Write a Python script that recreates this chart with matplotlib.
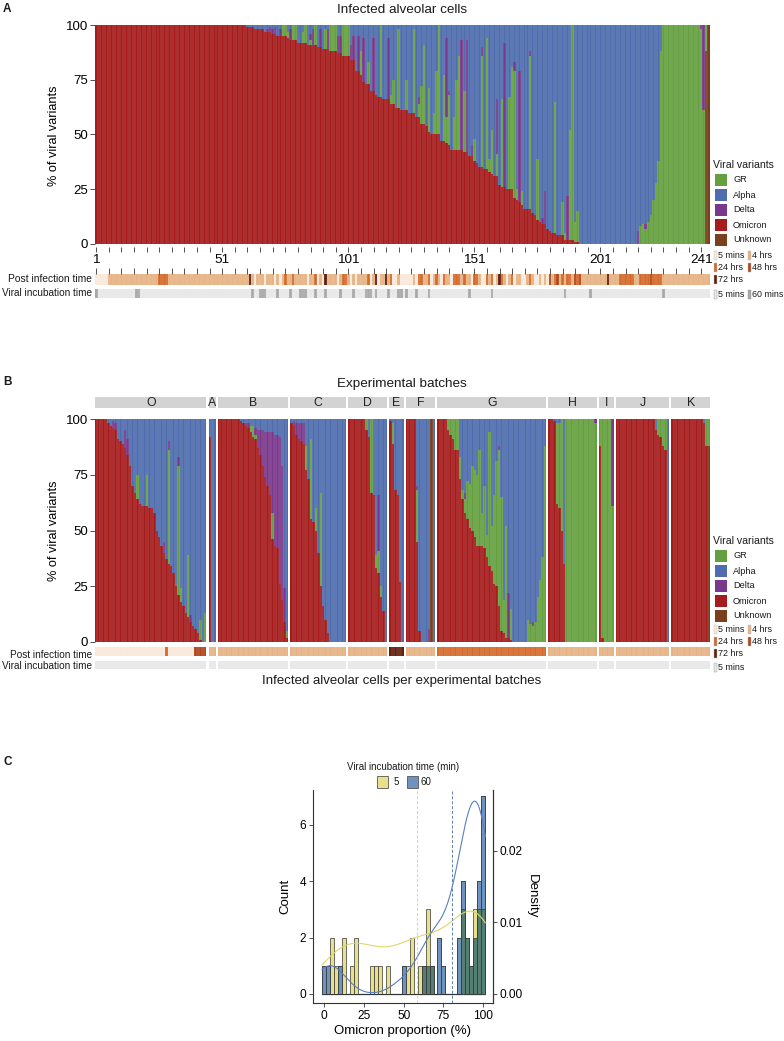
import numpy as np
import matplotlib
matplotlib.use("Agg")
import matplotlib.pyplot as plt
from matplotlib.patches import Rectangle

plt.rcParams['font.family'] = ['Liberation Sans', 'DejaVu Sans']
plt.rcParams['axes.linewidth'] = 0.6

# ------------------------------------------------------------------ data
variant_names = ['GR', 'Alpha', 'Delta', 'Omicron', 'Unknown']
variant_colors = ['#64a040', '#4f6dae', '#7a388c', '#a61c1c', '#7a3f1c']
stack_order = ['Unknown', 'Omicron', 'GR', 'Delta', 'Alpha']   # bottom -> top

batch_names = ['O', 'A', 'B', 'C', 'D', 'E', 'F', 'G', 'H', 'I', 'J', 'K']
batch_sizes = [46, 3, 29, 23, 16, 6, 12, 45, 20, 6, 22, 16]

# % per cell, cells in panel-B order (batch by batch)
omicron = (
    [100, 100, 100, 100, 100, 98, 97, 96, 95, 91, 90, 89, 87, 84, 79, 70, 67, 64, 62, 61, 61, 61, 60, 60, 58,
     50, 47, 43, 40, 37, 35, 34, 31, 25, 21, 18, 16, 13, 11, 9, 7, 6, 4, 1, 0, 0]                         # O
    + [92, 0, 0]                                                                                              # A
    + [100, 100, 100, 100, 100, 100, 100, 100, 100, 99, 98, 97, 96, 94, 92, 91, 87, 84, 79, 74, 70, 66, 46,
       43, 42, 26, 19, 9, 2]                                                                                  # B
    + [98, 97, 93, 91, 90, 89, 77, 73, 55, 54, 50, 40, 25, 16, 10, 4, 0, 0, 0, 0, 0, 0, 0]                   # C
    + [100, 100, 100, 100, 100, 100, 100, 95, 92, 67, 66, 33, 31, 20, 14, 0]                                 # D
    + [99, 89, 68, 66, 27, 0]                                                                                 # E
    + [100, 100, 100, 100, 45, 5, 0, 0, 0, 0, 0, 0]                                                           # F
    + [100, 100, 100, 100, 95, 93, 91, 86, 86, 73, 64, 58, 55, 51, 50, 47, 43, 43, 43, 42, 38, 34, 32, 26,
       25, 16, 5, 4, 2, 2, 1, 0, 0, 0, 0, 0, 0, 0, 0, 0, 0, 0, 0, 0, 0]                                      # G
    + [100, 100, 99, 62, 60, 50, 35, 0, 0, 0, 0, 0, 0, 0, 0, 0, 0, 0, 0, 0]                                  # H
    + [88, 2, 0, 0, 0, 0]                                                                                     # I
    + [100, 100, 100, 100, 100, 100, 100, 100, 100, 100, 100, 100, 100, 100, 100, 100, 95, 93, 92, 88, 86, 0]  # J
    + [100, 100, 100, 100, 100, 100, 100, 100, 100, 100, 100, 100, 100, 98, 88, 0]                          # K
)
gr = (
    [0, 0, 0, 0, 0, 0, 0, 0, 0, 0, 0, 0, 0, 0, 0, 0, 0, 11, 0, 0, 0, 14, 0, 0, 0,
     0, 0, 0, 0, 0, 51, 0, 0, 0, 58, 6, 0, 0, 28, 0, 0, 0, 0, 9, 0, 13]
    + [0, 0, 0]
    + [0, 0, 0, 0, 0, 0, 0, 0, 0, 0, 0, 0, 0, 3, 5, 2, 0, 0, 0, 0, 0, 0, 12, 0, 0, 0, 0, 0, 3]
    + [0, 0, 0, 0, 0, 0, 11, 0, 36, 0, 10, 0, 42, 0, 0, 0, 0, 0, 0, 0, 0, 0, 0]
    + [0, 0, 0, 0, 0, 0, 0, 5, 0, 33, 0, 6, 10, 5, 0, 0]
    + [0, 9, 0, 0, 0, 0]
    + [0, 0, 0, 0, 23, 0, 0, 0, 0, 0, 0, 0]
    + [0, 0, 0, 0, 5, 7, 9, 14, 14, 10, 4, 6, 17, 20, 29, 30, 32, 43, 15, 28, 10, 60, 20, 40,
       56, 70, 60, 15, 50, 0, 14, 0, 0, 0, 0, 0, 0, 10, 8, 7, 9, 20, 28, 38, 88]
    + [0, 0, 0, 36, 38, 50, 0, 100, 100, 100, 100, 100, 100, 100, 100, 100, 100, 100, 100, 98]
    + [12, 98, 100, 100, 100, 61]
    + [0, 0, 0, 0, 0, 0, 0, 0, 0, 0, 0, 0, 0, 0, 0, 0, 0, 7, 8, 12, 14, 0]
    + [0, 0, 0, 0, 0, 0, 0, 0, 0, 0, 0, 0, 0, 0, 12, 12]
)
delta = (
    [0, 0, 0, 0, 0, 0, 0, 3, 3, 0, 0, 0, 8, 7, 0, 0, 0, 0, 0, 0, 0, 0, 0, 0, 0,
     0, 0, 0, 5, 0, 4, 0, 0, 0, 4, 0, 0, 0, 0, 3, 0, 0, 0, 0, 0, 0]
    + [0, 0, 0]
    + [0, 0, 0, 0, 0, 0, 0, 0, 0, 0, 0, 1, 2, 0, 0, 3, 8, 11, 16, 20, 24, 28, 36, 50, 51, 66, 60, 15, 0]
    + [0, 2, 5, 7, 8, 9, 0, 0, 0, 0, 0, 0, 0, 0, 0, 0, 0, 0, 0, 0, 0, 0, 0]
    + [0, 0, 0, 0, 0, 0, 0, 0, 0, 0, 0, 0, 25, 0, 0, 0]
    + [0, 0, 0, 0, 0, 0]
    + [0, 0, 0, 0, 2, 0, 0, 0, 0, 6, 0, 0]
    + [0, 0, 0, 0, 0, 0, 0, 0, 0, 0, 0, 3, 0, 0, 0, 0, 0, 0, 0, 0, 0, 0, 0, 0,
       0, 2, 0, 0, 0, 20, 0, 0, 0, 0, 0, 0, 0, 0, 0, 2, 0, 0, 0, 0, 0]
    + [0, 0, 0, 0, 0, 0, 0, 0, 0, 0, 0, 0, 0, 0, 0, 0, 0, 0, 0, 2]
    + [0, 0, 0, 0, 0, 39]
    + [0, 0, 0, 0, 0, 0, 0, 0, 0, 0, 0, 0, 0, 0, 0, 0, 0, 0, 0, 0, 0, 0]
    + [0, 0, 0, 0, 0, 0, 0, 0, 0, 0, 0, 0, 0, 0, 0, 0]
)
alpha = (
    [0, 0, 0, 0, 0, 2, 3, 1, 2, 9, 10, 11, 5, 9, 21, 30, 33, 25, 38, 39, 39, 25, 40, 40, 42,
     50, 53, 57, 55, 63, 10, 66, 69, 75, 17, 76, 84, 87, 61, 88, 93, 94, 96, 90, 100, 87]
    + [8, 100, 100]
    + [0, 0, 0, 0, 0, 0, 0, 0, 0, 1, 2, 2, 2, 3, 3, 4, 5, 5, 5, 6, 6, 6, 6, 7, 7, 8, 21, 76, 95]
    + [2, 1, 2, 2, 2, 2, 12, 27, 9, 46, 40, 60, 33, 84, 90, 96, 100, 100, 100, 100, 100, 100, 100]
    + [0, 0, 0, 0, 0, 0, 0, 0, 8, 0, 34, 61, 34, 75, 86, 100]
    + [1, 2, 32, 34, 73, 100]
    + [0, 0, 0, 0, 30, 95, 100, 100, 100, 94, 0, 100]
    + [0, 0, 0, 0, 0, 0, 0, 0, 0, 17, 32, 33, 28, 29, 21, 23, 25, 14, 42, 30, 52, 6, 48, 34,
       19, 12, 35, 81, 48, 78, 85, 100, 100, 100, 100, 100, 100, 90, 92, 91, 91, 80, 72, 62, 12]
    + [0, 0, 1, 2, 2, 0, 65, 0, 0, 0, 0, 0, 0, 0, 0, 0, 0, 0, 0, 0]
    + [0, 0, 0, 0, 0, 0]
    + [0, 0, 0, 0, 0, 0, 0, 0, 0, 0, 0, 0, 0, 0, 0, 0, 5, 0, 0, 0, 0, 100]
    + [0, 0, 0, 0, 0, 0, 0, 0, 0, 0, 0, 0, 0, 2, 0, 0]
)
unknown = (
    [0] * 46 + [0] * 3 + [0] * 29 + [0] * 23 + [0] * 16 + [0] * 6
    + [0, 0, 0, 0, 0, 0, 0, 0, 0, 0, 100, 0]
    + [0] * 45 + [0] * 20 + [0] * 6 + [0] * 22
    + [0, 0, 0, 0, 0, 0, 0, 0, 0, 0, 0, 0, 0, 0, 0, 88]
)

post_levels = ['5 mins', '4 hrs', '24 hrs', '48 hrs', '72 hrs']
post_colors = ['#f9e9db', '#e6b385', '#d46b2c', '#b1461d', '#64200f']
post_time_O = ['5 mins'] * 29 + ['24 hrs'] + ['5 mins'] * 11 + ['48 hrs'] * 5
batch_post_time = {'A': '4 hrs', 'B': '4 hrs', 'C': '4 hrs', 'D': '4 hrs', 'E': '72 hrs', 'F': '4 hrs',
                   'G': '24 hrs', 'H': '4 hrs', 'I': '4 hrs', 'J': '4 hrs', 'K': '4 hrs'}

incub_levels = ['5 mins', '60 mins']
incub_colors = ['#e8e8e8', '#a9a9a9']
incub_60_cells_A = [1, 17, 18, 63, 66, 67, 68, 73, 78, 82, 83, 84, 88, 92, 98, 103, 108, 109, 110, 112,
                    117, 121, 122, 124, 128, 133, 149, 158, 187, 197, 226]

# panel C : histogram counts (binwidth 2.5, centres 0..100)
hist_bin_centres = np.arange(0, 100.01, 2.5)
counts_5min = [0, 0, 2, 1, 0, 2, 0, 1, 2, 0, 0, 0, 1, 1, 1, 0, 1, 0, 0, 0, 0,
               1, 2, 0, 1, 1, 3, 1, 0, 0, 0, 0, 0, 0, 0, 3, 2, 1, 3, 3, 3]
counts_60min = [1, 1, 0, 0, 1, 0, 0, 0, 0, 0, 0, 0, 0, 0, 0, 0, 0, 0, 0, 0, 1,
                0, 0, 0, 0, 1, 1, 1, 0, 2, 1, 0, 0, 0, 2, 4, 2, 1, 2, 4, 7]
mean_line_5min = 58.2
mean_line_60min = 80.2
density_scale = 254.0   # 0.01 density == 2.54 counts

# ------------------------------------------------------------------ helpers
W, H = 784, 1041
fig = plt.figure(figsize=(W / 100, H / 100), dpi=100)


def ax_px(x0, y0, x1, y1):
    return fig.add_axes([x0 / W, 1 - y1 / H, (x1 - x0) / W, (y1 - y0) / H])


def txt(x, y, s, **kw):
    kw.setdefault('color', '#1a1a1a')
    return fig.text(x / W, 1 - y / H, s, **kw)


def rect(x, y, w, h, fc, ec='none', lw=0.0):
    fig.add_artist(Rectangle((x / W, 1 - (y + h) / H), w / W, h / H, transform=fig.transFigure,
                             facecolor=fc, edgecolor=ec, linewidth=lw))


data = {'Omicron': np.array(omicron, float), 'GR': np.array(gr, float), 'Delta': np.array(delta, float),
        'Alpha': np.array(alpha, float), 'Unknown': np.array(unknown, float)}
vcol = dict(zip(variant_names, variant_colors))
pcol = dict(zip(post_levels, post_colors))
N = len(omicron)

post_time = list(post_time_O)
for b, n in zip(batch_names[1:], batch_sizes[1:]):
    post_time += [batch_post_time[b]] * n


def stacked(ax, idx):
    x = np.arange(len(idx))
    bottom = np.zeros(len(idx))
    for v in stack_order:
        vals = data[v][idx]
        ax.bar(x, vals, bottom=bottom, width=1.0, color=vcol[v], linewidth=0)
        bottom += vals
    if len(idx) > 1:
        ax.vlines(np.arange(0.5, len(idx) - 1), 0, 100, colors='white', linewidth=0.22, alpha=0.55)
    ax.set_xlim(-0.5, len(idx) - 0.5)


def strip_row(ax, cols):
    x = np.arange(len(cols))
    ax.bar(x, 1, width=1.0, color=cols, linewidth=0)
    if len(cols) > 1:
        ax.vlines(np.arange(0.5, len(cols) - 1), 0, 1, colors='white', linewidth=0.22, alpha=0.55)
    ax.set_xlim(-0.5, len(cols) - 0.5)
    ax.set_ylim(0, 1)
    for s in ax.spines.values():
        s.set_visible(False)
    ax.set_yticks([])


def clean(ax):
    for s in ax.spines.values():
        s.set_visible(False)


def variant_legend(y0):
    txt(713, y0, 'Viral variants', fontsize=7.6, va='center', ha='left')
    for i, v in enumerate(variant_names):
        yc = y0 + 15 * (i + 1)
        rect(715, yc - 6, 12, 12, vcol[v])
        txt(733, yc, v, fontsize=6.6, va='center', ha='left')


def post_legend(y0):
    entries = [('5 mins', 714, y0), ('4 hrs', 748, y0), ('24 hrs', 714, y0 + 12),
               ('48 hrs', 748, y0 + 12), ('72 hrs', 714, y0 + 24)]
    for lab, x, y in entries:
        rect(x, y - 4.5, 2.6, 9, pcol[lab], ec='#bbbbbb', lw=0.3)
        txt(x + 4.2, y, lab, fontsize=6.4, va='center', ha='left')


def incub_legend(y0, labels):
    for lab, x in zip(labels, [714, 748]):
        rect(x, y0 - 4.5, 2.6, 9, incub_colors[incub_levels.index(lab)], ec='#999999', lw=0.3)
        txt(x + 4.2, y0, lab, fontsize=6.4, va='center', ha='left')


# ------------------------------------------------------------------ panel A
order = np.lexsort((-data['Unknown'], -data['Delta'], -data['GR'], -data['Alpha'], -data['Omicron']))
txt(3, 9, 'A', fontsize=8.5, fontweight='bold', va='center', ha='left')
txt(402, 10, 'Infected alveolar cells', fontsize=9.7, ha='center', va='center')

axA = ax_px(95, 25, 710, 247)
stacked(axA, order)
axA.set_ylim(-1.4, 100)
clean(axA)
axA.set_yticks([0, 25, 50, 75, 100])
axA.set_yticklabels(['0', '25', '50', '75', '100'], fontsize=9.5)
tick_pos = np.arange(0, N, 5)
axA.set_xticks(tick_pos)
axA.set_xticklabels([str(p + 1) if (p % 50 == 0 or p == 240) else '' for p in tick_pos], fontsize=9.7)
axA.tick_params(axis='both', length=3.5, width=0.6, color='#333333', pad=1.5)
axA.set_ylabel('% of viral variants', fontsize=9.2, labelpad=4)

axA_post = ax_px(95, 274, 710, 285)
strip_row(axA_post, [pcol[post_time[i]] for i in order])
axA_post.set_xticks(tick_pos)
axA_post.tick_params(axis='x', bottom=False, top=True, labelbottom=False, length=4, width=0.6, color='#333333')
txt(92, 279.5, 'Post infection time', fontsize=7.4, ha='right', va='center')

axA_inc = ax_px(95, 289, 710, 298)
inc_cols = [incub_colors[1] if (k + 1) in incub_60_cells_A else incub_colors[0] for k in range(N)]
strip_row(axA_inc, inc_cols)
axA_inc.set_xticks([])
txt(92, 293.5, 'Viral incubation time', fontsize=7.2, ha='right', va='center')

variant_legend(165)
post_legend(255.5)
incub_legend(294.5, ['5 mins', '60 mins'])

# ------------------------------------------------------------------ panel B
txt(3, 382, 'B', fontsize=8.5, fontweight='bold', va='center', ha='left')
txt(402, 384, 'Experimental batches', fontsize=9.7, ha='center', va='center')

gap = 2.2
pb = (615 - gap * (len(batch_names) - 1)) / N
cursor = 95.0
start = 0
for bi, (b, n) in enumerate(zip(batch_names, batch_sizes)):
    idx = np.arange(start, start + n)
    x0, x1 = cursor, cursor + n * pb
    ax = ax_px(x0, 419, x1, 642)
    stacked(ax, idx)
    ax.set_ylim(0, 100)
    clean(ax)
    ax.set_xticks([])
    if bi == 0:
        ax.set_yticks([0, 25, 50, 75, 100])
        ax.set_yticklabels(['0', '25', '50', '75', '100'], fontsize=9.5)
        ax.tick_params(axis='y', length=3.5, width=0.6, color='#333333', pad=1.5)
        ax.set_ylabel('% of viral variants', fontsize=9.2, labelpad=4)
    else:
        ax.set_yticks([])
    rect(x0, 397, x1 - x0, 11, '#d3d3d3')
    txt((x0 + x1) / 2, 402.5, b, fontsize=8.8, ha='center', va='center', color='#222222')
    axp = ax_px(x0, 647, x1, 656)
    strip_row(axp, [pcol[post_time[i]] for i in idx])
    axp.set_xticks([])
    axi = ax_px(x0, 661, x1, 669)
    strip_row(axi, [incub_colors[0]] * n)
    axi.set_xticks([])
    cursor = x1 + gap
    start += n

txt(92, 654.5, 'Post infection time', fontsize=7.2, ha='right', va='center')
txt(92, 666, 'Viral incubation time', fontsize=7.2, ha='right', va='center')
txt(402, 681, 'Infected alveolar cells per experimental batches', fontsize=9.5, ha='center', va='center')

variant_legend(541)
post_legend(629)
incub_legend(667, ['5 mins'])

# ------------------------------------------------------------------ panel C
txt(3, 762, 'C', fontsize=8.5, fontweight='bold', va='center', ha='left')
txt(403, 767, 'Viral incubation time (min)', fontsize=7, ha='center', va='center')
yel_fill, blu_fill, ovl_fill = '#e8e08a', '#6f93bf', '#567f73'
yel_line, blu_line = '#ded66c', '#5a7fbf'
rect(377, 776, 11, 12, yel_fill, ec='#555555', lw=0.6)
txt(396, 782, '5', fontsize=7, ha='center', va='center')
rect(407, 776, 11, 12, blu_fill, ec='#555555', lw=0.6)
txt(426, 782, '60', fontsize=7, ha='center', va='center')

axC = ax_px(313, 790, 493, 1003)
c5 = np.array(counts_5min, float)
c60 = np.array(counts_60min, float)
both = np.minimum(c5, c60)
axC.hlines(0, -1.25, 101.25, colors='#888888', linewidth=1.0, zorder=1)
axC.bar(hist_bin_centres, c60, width=2.5, color=blu_fill, edgecolor='#333333', linewidth=0.5, zorder=2)
axC.bar(hist_bin_centres, c5, width=2.5, color=yel_fill, edgecolor='#333333', linewidth=0.5, zorder=2)
top_blue = np.where(c60 > c5, c60, 0)
axC.bar(hist_bin_centres, top_blue, width=2.5, color=blu_fill, edgecolor='#333333', linewidth=0.5, zorder=3)
axC.bar(hist_bin_centres, both, width=2.5, color=ovl_fill, edgecolor='#333333', linewidth=0.5, zorder=4)


def kde(values, grid):
    values = np.asarray(values, float)
    n = len(values)
    sd = values.std(ddof=1)
    q75, q25 = np.percentile(values, [75, 25])
    bw = 0.9 * min(sd, (q75 - q25) / 1.34) * n ** (-0.2)
    z = (grid[:, None] - values[None, :]) / bw
    return np.exp(-0.5 * z ** 2).sum(axis=1) / (n * bw * np.sqrt(2 * np.pi))


grid = np.linspace(-1.25, 101.25, 400)
vals5 = np.repeat(hist_bin_centres, c5.astype(int))
vals60 = np.repeat(hist_bin_centres, c60.astype(int))
axC.plot(grid, kde(vals5, grid) * density_scale, color=yel_line, linewidth=0.8, zorder=5)
axC.plot(grid, kde(vals60, grid) * density_scale, color=blu_line, linewidth=0.8, zorder=5)
axC.axvline(mean_line_5min, color='#e5dc55', linestyle=(0, (3, 2)), linewidth=0.7, zorder=6)
axC.axvline(mean_line_60min, color='#5a7fb0', linestyle=(0, (3, 2)), linewidth=0.7, zorder=6)

axC.set_xlim(-6.9, 106.1)
axC.set_ylim(-0.32, 7.23)
axC.spines['top'].set_visible(False)
for s in ['left', 'bottom', 'right']:
    axC.spines[s].set_color('#333333')
    axC.spines[s].set_linewidth(0.8)
axC.set_xticks([0, 25, 50, 75, 100])
axC.set_yticks([0, 2, 4, 6])
axC.tick_params(labelsize=8.6, length=3, width=0.6, color='#333333', pad=2)
axC.set_xlabel('Omicron proportion (%)', fontsize=9.5, labelpad=2)
axC.set_ylabel('Count', fontsize=9.5, labelpad=6)
sec = axC.secondary_yaxis('right', functions=(lambda c: c / density_scale, lambda d: d * density_scale))
sec.set_yticks([0, 0.01, 0.02])
sec.set_yticklabels(['0.00', '0.01', '0.02'])
sec.tick_params(labelsize=8.6, length=3, width=0.6, color='#333333', pad=2)
sec.spines['right'].set_color('#333333')
sec.spines['right'].set_linewidth(0.8)
sec.set_ylabel('Density', fontsize=9.5, rotation=270, labelpad=11)

fig.savefig('out.png', dpi=100)
